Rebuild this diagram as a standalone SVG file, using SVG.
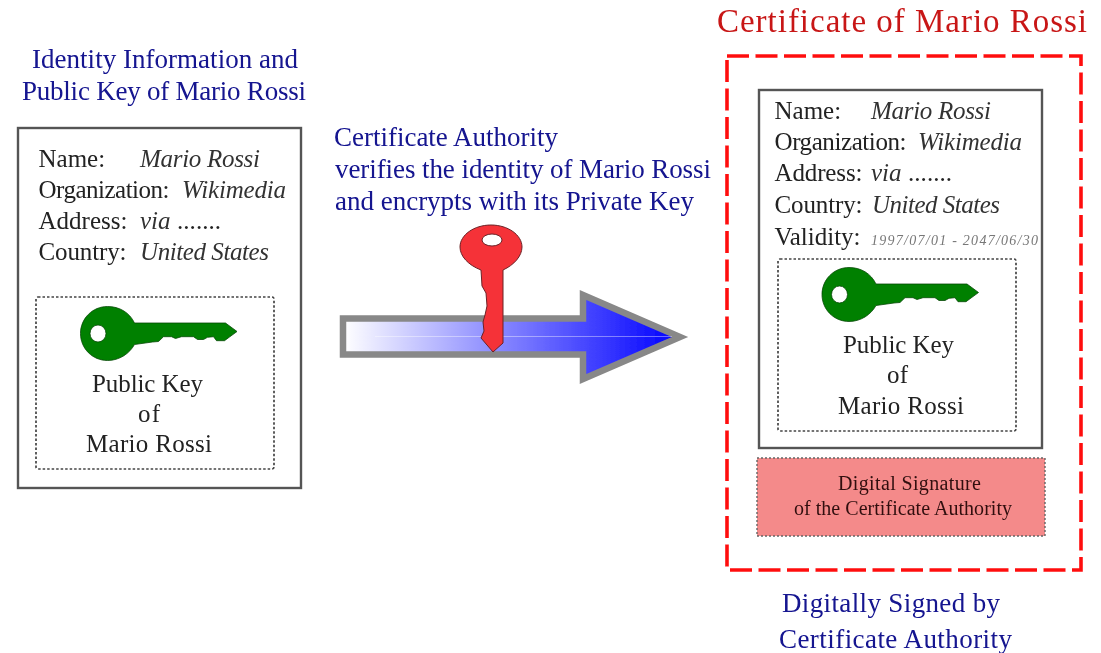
<svg xmlns="http://www.w3.org/2000/svg" width="1101" height="653" viewBox="0 0 1101 653">
<style>
text{font-family:"Liberation Serif","Times New Roman",serif;font-size:25px;fill:#222}
.i{font-style:italic;fill:#333}
.blue{fill:#12128f;font-size:27px}
.box{fill:#fff;stroke:#555;stroke-width:2.4}
.dot{fill:#fff;stroke:#444;stroke-width:1.7;stroke-dasharray:2.5 2}
.sig{font-size:20px;fill:#301010}
</style>
<defs>
<filter id="soft" x="0" y="0" width="1101" height="653" filterUnits="userSpaceOnUse"><feGaussianBlur stdDeviation="0.45"/></filter>
<linearGradient id="ag" x1="343" x2="678" y1="0" y2="0" gradientUnits="userSpaceOnUse">
<stop offset="0" stop-color="#fff"/><stop offset="1" stop-color="#0000ff"/>
</linearGradient>
<path id="gk" fill="#008000" stroke="#0a4a0a" stroke-width="0.8" fill-rule="evenodd" d="M27,-10.5 C22,-21 12,-27 0,-27 C-15,-27 -27,-15 -27,0 C-27,15 -15,27 0,27 C12,27 22,20 27,11 L45,8.5 L51,8 L56,3.2 L64,3.2 L68,5 L74,3.2 L86,3.2 L90,6 L96,6 L100,3.8 L106,3.2 L109,7.2 L117,7.2 L122,3.5 L129.5,-2 L118,-10.5 Z M-9.5,-8.5 A8,8.5 0 1 0 -9.5,8.5 A8,8.5 0 1 0 -9.5,-8.5 Z"/>
</defs>
<rect width="1101" height="653" fill="#fff"/>
<g filter="url(#soft)">
<g id="identity-title">
<text class="blue" x="32" y="68" textLength="266">Identity Information and</text>
<text class="blue" x="22" y="100" textLength="284">Public Key of Mario Rossi</text>
</g>

<g id="identity-card">
<rect class="box" x="18" y="128" width="283" height="360"/>
<text x="38.5" y="167">Name:</text>
<text class="i" x="140" y="167" textLength="120">Mario Rossi</text>
<text x="38.5" y="198" textLength="131">Organization:</text>
<text class="i" x="182" y="198" textLength="104">Wikimedia</text>
<text x="38.5" y="229" textLength="89">Address:</text>
<text class="i" x="140" y="229">via</text>
<text x="177" y="229" textLength="44">.......</text>
<text x="38.5" y="260" textLength="88">Country:</text>
<text class="i" x="140" y="260" textLength="129">United States</text>
<rect class="dot" x="36" y="297" width="238" height="172" rx="2"/>
<use href="#gk" x="107.5" y="333.5"/>
<text x="92" y="391.5" textLength="111">Public Key</text>
<text x="138" y="422" textLength="22">of</text>
<text x="86" y="452" textLength="126">Mario Rossi</text>
</g>

<g id="authority-text">
<text class="blue" x="334" y="146" textLength="224">Certificate Authority</text>
<text class="blue" x="335" y="178" textLength="376">verifies the identity of Mario Rossi</text>
<text class="blue" x="335" y="210" textLength="359">and encrypts with its Private Key</text>
</g>

<g id="connectors">
<path d="M343,318.5 H583 V295 L680,337 L583,379 V354.5 H343 Z" fill="url(#ag)" stroke="#888" stroke-width="6.5" stroke-linejoin="miter"/>
<line x1="375" y1="336.5" x2="672" y2="336.5" stroke="#fff" stroke-opacity="0.4" stroke-width="1.2"/>
</g>

<g id="private-key">
<path fill="#f53239" stroke="#6a2226" stroke-width="1" fill-rule="evenodd" d="M481,270 C468,265 460,256 460,247 C460,235 474,225 491,225 C508,225 522,235 522,247 C522,256 514,265 503,270 L503,343 L493,352 L481,338 L484,331 L483,322 L485,315 L487,306 L486,293 L482,286 Z M492,234 A10,6 0 1 0 492,246 A10,6 0 1 0 492,234 Z"/>
</g>

<g id="certificate">
<text x="717" y="32" textLength="370" style="font-size:33px;fill:#c81818">Certificate of Mario Rossi</text>
<rect x="727" y="56" width="354" height="514" fill="#fff" stroke="#ff0f0f" stroke-width="3.6" stroke-dasharray="22 6.5"/>
<rect class="box" x="759" y="90" width="283" height="358"/>
<text x="774.5" y="119">Name:</text>
<text class="i" x="871" y="119" textLength="120">Mario Rossi</text>
<text x="774.5" y="150" textLength="132">Organization:</text>
<text class="i" x="918" y="150" textLength="104">Wikimedia</text>
<text x="774.5" y="181" textLength="88">Address:</text>
<text class="i" x="871" y="181">via</text>
<text x="908" y="181" textLength="44">.......</text>
<text x="774.5" y="213" textLength="88">Country:</text>
<text class="i" x="872" y="213" textLength="128">United States</text>
<text x="774.5" y="245" textLength="86">Validity:</text>
<text class="i" x="871" y="245" textLength="167" style="font-size:14px;fill:#777">1997/07/01 - 2047/06/30</text>
<rect class="dot" x="778" y="259" width="238" height="172" rx="2"/>
<use href="#gk" x="849" y="294.5"/>
<text x="843" y="352.5" textLength="111">Public Key</text>
<text x="887" y="383" textLength="21">of</text>
<text x="838" y="414" textLength="126">Mario Rossi</text>
</g>

<g id="signature">
<rect x="757" y="458" width="288" height="78" fill="#f48a8a" stroke="#666" stroke-width="1.4" stroke-dasharray="2 2"/>
<text class="sig" x="838" y="490" textLength="143">Digital Signature</text>
<text class="sig" x="794" y="515" textLength="218">of the Certificate Authority</text>
</g>

<g id="signed-by">
<text class="blue" x="782" y="612" textLength="218">Digitally Signed by</text>
<text class="blue" x="779" y="648" textLength="233">Certificate Authority</text>
</g>
</g>
</svg>
